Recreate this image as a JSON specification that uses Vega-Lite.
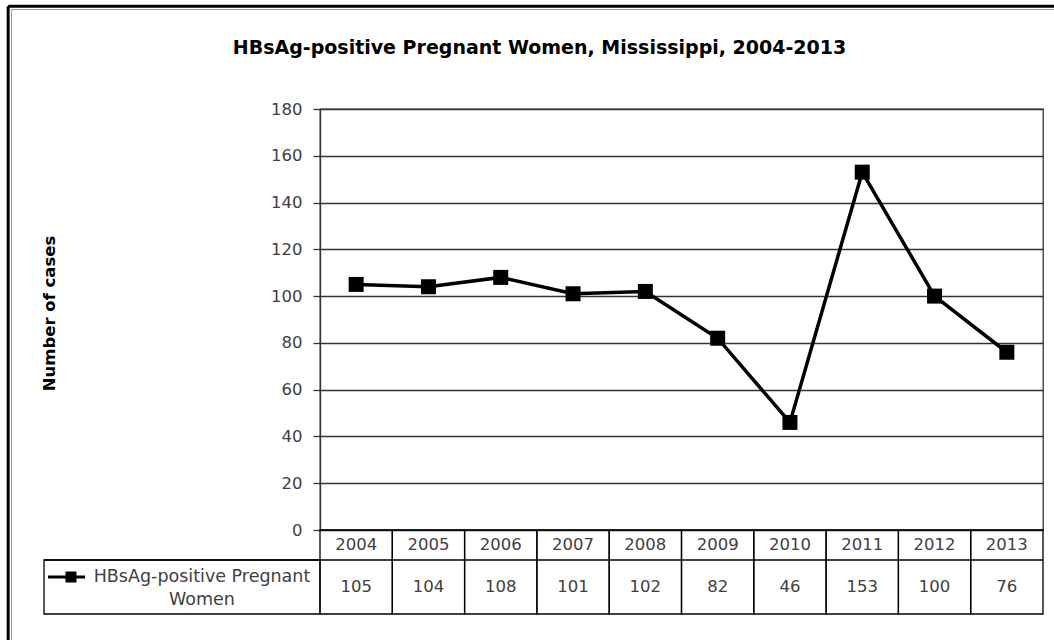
{
  "$schema": "https://vega.github.io/schema/vega-lite/v6.json",
  "autosize": {"type": "none"},
  "width": 723,
  "height": 421,
  "padding": {"left": 320, "top": 109, "right": 11, "bottom": 110},
  "background": "white",
  "config": {
    "view": {"stroke": "#333333", "strokeWidth": 1.3},
    "font": "DejaVu Sans"
  },
  "title": {
    "text": "HBsAg-positive Pregnant Women, Mississippi, 2004-2013",
    "anchor": "middle",
    "dx": -142,
    "offset": -53,
    "fontSize": 19,
    "fontWeight": "bold",
    "font": "DejaVu Sans",
    "color": "#000000"
  },
  "data": {
    "values": [
      {"year": 2004, "value": 105},
      {"year": 2005, "value": 104},
      {"year": 2006, "value": 108},
      {"year": 2007, "value": 101},
      {"year": 2008, "value": 102},
      {"year": 2009, "value": 82},
      {"year": 2010, "value": 46},
      {"year": 2011, "value": 153},
      {"year": 2012, "value": 100},
      {"year": 2013, "value": 76}
    ]
  },
  "layer": [
    {
      "mark": {"type": "line", "color": "#000000", "strokeWidth": 3.5},
      "encoding": {
        "x": {"field": "year", "type": "quantitative", "scale": {"domain": [2003.5, 2013.5], "nice": false, "zero": false}, "axis": null},
        "y": {"field": "value", "type": "quantitative", "scale": {"domain": [0, 180], "nice": false},
          "axis": {
            "title": "Number of cases",
            "values": [0, 20, 40, 60, 80, 100, 120, 140, 160, 180],
            "grid": true, "gridColor": "#333333", "gridWidth": 1.3, "gridOpacity": 1,
            "domainColor": "#333333", "domainWidth": 1.3,
            "tickColor": "#333333", "tickSize": 7, "tickWidth": 1.3,
            "labelFontSize": 16.5, "labelColor": "#404040", "labelPadding": 11, "labelFont": "DejaVu Sans",
            "titleFontSize": 16.5, "titleFontWeight": "bold", "titleColor": "#000000", "titleFont": "DejaVu Sans",
            "titleX": -271, "titleY": 204, "titleAngle": -90, "titleBaseline": "middle", "titleAlign": "center"
          }
        }
      }
    },
    {
      "mark": {"type": "point", "shape": "square", "filled": true, "color": "#000000", "size": 225, "opacity": 1},
      "encoding": {
        "x": {"field": "year", "type": "quantitative"},
        "y": {"field": "value", "type": "quantitative"}
      }
    },
    {
      "mark": {"type": "rect", "fill": null, "fillOpacity": 0, "stroke": "#000000", "strokeWidth": 1.3, "xOffset": -36.15, "x2Offset": 36.15},
      "encoding": {
        "x": {"field": "year", "type": "quantitative"},
        "x2": {"field": "year"},
        "y": {"datum": 0},
        "y2": {"datum": -35.91}
      }
    },
    {
      "mark": {"type": "text", "fontSize": 16.5, "color": "#404040", "align": "center", "baseline": "middle", "font": "DejaVu Sans"},
      "encoding": {
        "x": {"field": "year", "type": "quantitative"},
        "y": {"datum": -6.41},
        "text": {"field": "year", "type": "nominal"}
      }
    },
    {
      "mark": {"type": "text", "fontSize": 16.5, "color": "#404040", "align": "center", "baseline": "middle", "font": "DejaVu Sans"},
      "encoding": {
        "x": {"field": "year", "type": "quantitative"},
        "y": {"datum": -24.37},
        "text": {"field": "value", "type": "quantitative"}
      }
    },
    {
      "data": {"values": [{"label": "HBsAg-positive Pregnant Women"}]},
      "layer": [
        {
          "mark": {"type": "rule", "stroke": "#000000", "strokeWidth": 1.3},
          "encoding": {
            "x": {"datum": 1999.683},
            "x2": {"datum": 2013.5},
            "y": {"datum": -12.83}
          }
        },
        {
          "mark": {"type": "rect", "fill": null, "fillOpacity": 0, "stroke": "#000000", "strokeWidth": 1.3},
          "encoding": {
            "x": {"datum": 1999.683},
            "x2": {"datum": 2003.5},
            "y": {"datum": -12.83},
            "y2": {"datum": -35.91}
          }
        },
        {
          "mark": {"type": "text", "fontSize": 17.5, "color": "#404040", "align": "center", "baseline": "middle", "lineHeight": 23, "font": "DejaVu Sans"},
          "encoding": {
            "x": {"datum": 2001.868},
            "y": {"datum": -20.1},
            "text": {"value": ["HBsAg-positive Pregnant", "Women"]}
          }
        },
        {
          "mark": {"type": "rule", "stroke": "#000000", "strokeWidth": 3},
          "encoding": {
            "x": {"datum": 1999.738},
            "x2": {"datum": 2000.25},
            "y": {"datum": -20.1}
          }
        },
        {
          "mark": {"type": "point", "shape": "square", "filled": true, "color": "#000000", "size": 121, "opacity": 1},
          "encoding": {
            "x": {"datum": 2000.056},
            "y": {"datum": -20.1}
          }
        },
        {
          "mark": {"type": "rule", "stroke": "#000000", "strokeWidth": 3},
          "encoding": {
            "x": {"datum": 1999.187},
            "x2": {"datum": 2014},
            "y": {"datum": 223.95}
          }
        },
        {
          "mark": {"type": "rule", "stroke": "#000000", "strokeWidth": 3},
          "encoding": {
            "x": {"datum": 1999.187},
            "y": {"datum": 223.95},
            "y2": {"datum": -47}
          }
        },
        {
          "mark": {"type": "rule", "stroke": "#999999", "strokeWidth": 1},
          "encoding": {
            "x": {"datum": 1999.233},
            "x2": {"datum": 2014},
            "y": {"datum": 222.54}
          }
        },
        {
          "mark": {"type": "rule", "stroke": "#999999", "strokeWidth": 1},
          "encoding": {
            "x": {"datum": 1999.233},
            "y": {"datum": 222.54},
            "y2": {"datum": -47}
          }
        }
      ]
    }
  ]
}
